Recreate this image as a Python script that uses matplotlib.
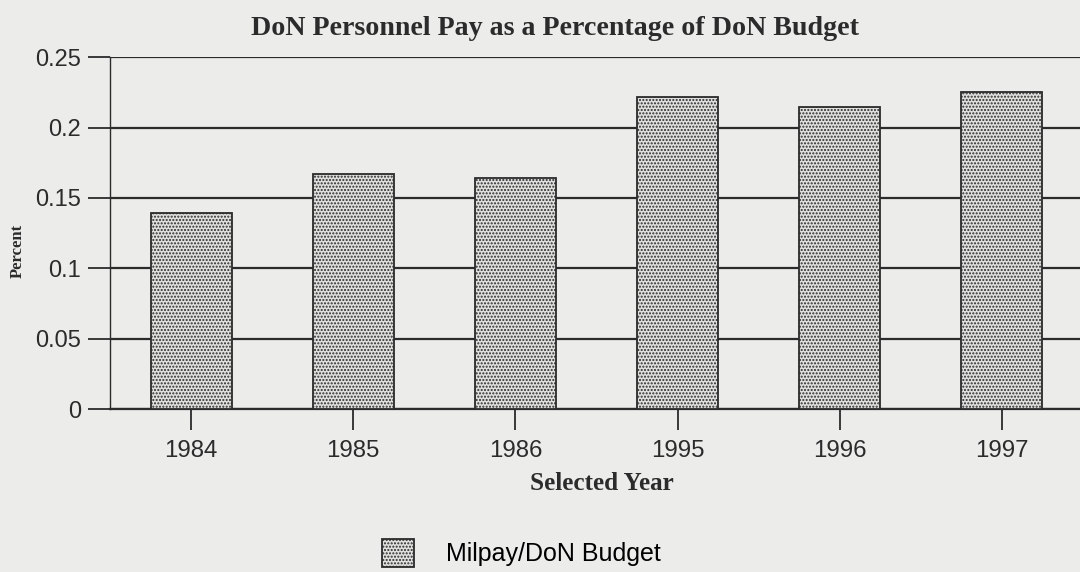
import matplotlib.pyplot as plt
import numpy as np

years = ["1984", "1985", "1986", "1995", "1996", "1997"]
milpay_share = [0.139, 0.167, 0.164, 0.222, 0.215, 0.225]
y_ticks = [0, 0.05, 0.1, 0.15, 0.2, 0.25]
y_tick_labels = ["0", "0.05", "0.1", "0.15", "0.2", "0.25"]

bg = "#ececea"
ink = "#2b2b2b"
serif = ["Liberation Serif", "DejaVu Serif"]
sans = ["Liberation Sans", "DejaVu Sans"]

plt.rcParams["hatch.color"] = "#666666"
plt.rcParams["hatch.linewidth"] = 1.0

fig = plt.figure(figsize=(10.8, 5.72), dpi=100, facecolor=bg)
ax = fig.add_axes([110 / 1080, 1 - 409 / 572, 973 / 1080, 352 / 572])
ax.set_facecolor(bg)

index = np.arange(len(years))
ax.set_axisbelow(True)
ax.grid(True, axis="y", color=ink, linewidth=1.6)
bars = ax.bar(index, milpay_share, 0.5, color="#e0e0de", edgecolor=ink,
              linewidth=1.3, hatch=".....", label="Milpay/DoN Budget", zorder=3)

ax.set_xlim(-0.5, len(years) - 0.5)
ax.set_ylim(0, 0.2502)
ax.set_yticks(y_ticks)
ax.set_yticklabels(y_tick_labels, family=sans, fontsize=17, color=ink)
ax.set_xticks(index)
ax.set_xticklabels(years, family=sans, fontsize=17.3, color=ink)
ax.tick_params(axis="y", length=16, width=1.3, color=ink, pad=5)
ax.tick_params(axis="x", length=15, width=1.3, color=ink, pad=7)

for side in ["top", "right"]:
    ax.spines[side].set_visible(False)
ax.spines["left"].set_color(ink)
ax.spines["left"].set_linewidth(1.0)
ax.spines["bottom"].set_color(ink)
ax.spines["bottom"].set_linewidth(1.6)

ax.set_title("DoN Personnel Pay as a Percentage of DoN Budget", family=serif,
             fontweight="bold", fontsize=20.2, color=ink, pad=16, x=0.457)
ax.set_xlabel("Selected Year", family=serif, fontweight="bold", fontsize=18.1,
              color=ink)
ax.xaxis.set_label_coords(0.5 + 5 / 973, -0.18)
ax.set_ylabel("Percent", family=serif, fontweight="bold", fontsize=12,
              color=ink)
ax.yaxis.set_label_coords(-84 / 973, 0.449)

fig.legend(handles=[bars], loc="center", bbox_to_anchor=(0.483, 1 - 553 / 572),
           frameon=False, prop={"family": sans, "size": 18},
           handlelength=1.25, handleheight=1.4, handletextpad=1.3)

fig.savefig("out.png", dpi=100, facecolor=bg)
